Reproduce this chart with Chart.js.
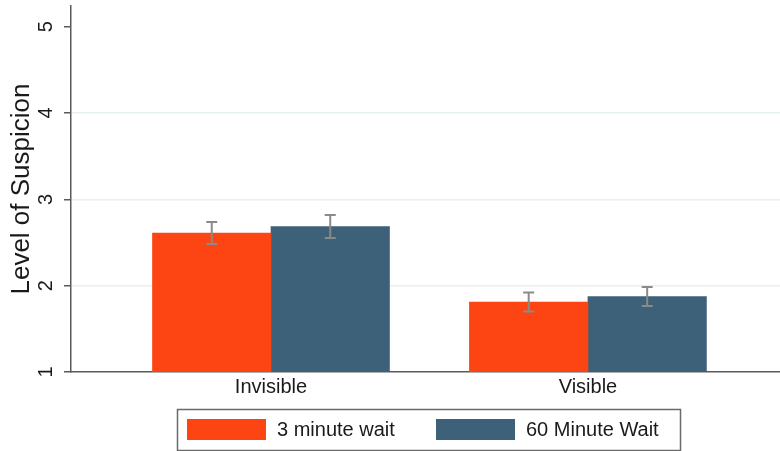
<!DOCTYPE html>
<html>
<head>
<meta charset="utf-8">
<script src="https://cdn.jsdelivr.net/npm/chart.js@4"></script>
<style>
  html, body { margin: 0; padding: 0; background: #fff; overflow: hidden; }
  #wrap { width: 780px; height: 451px; }
</style>
</head>
<body>
<div id="wrap"><canvas id="grafico" width="780" height="451"></canvas></div>
<script>
// data
const categories = ["Invisible", "Visible"];
const seriesNames = ["3 minute wait", "60 Minute Wait"];
const wait3 = [2.61, 1.81];
const wait60 = [2.685, 1.875];
const err3 = [0.128, 0.11];
const err60 = [0.134, 0.11];
const yTicks = [1, 2, 3, 4, 5];

const colors = ["#fc4512", "#3d6179"];
const textColor = "#1a1a1a";
const axisColor = "#5a5a5a";
const fontFam = "'Liberation Sans', Arial, Helvetica, sans-serif";

function toPoints(vals) {
    return vals.map((v, i) => ({x: i, y: v}));
}

// error bars, y tick labels (rotated like the original) and the boxed legend
const extras = {
    id: "extras",
    afterDatasetsDraw(chart) {
        const ctx = chart.ctx;
        const y = chart.scales.y;
        const errs = [err3, err60];
        ctx.save();
        ctx.strokeStyle = "#8a8a8a";
        ctx.lineWidth = 2;
        chart.data.datasets.forEach((ds, d) => {
            const meta = chart.getDatasetMeta(d);
            meta.data.forEach((bar, i) => {
                const v = ds.data[i].y;
                const top = y.getPixelForValue(v + errs[d][i]);
                const bot = y.getPixelForValue(v - errs[d][i]);
                ctx.beginPath();
                ctx.moveTo(bar.x, top); ctx.lineTo(bar.x, bot);
                ctx.moveTo(bar.x - 5.5, top); ctx.lineTo(bar.x + 5.5, top);
                ctx.moveTo(bar.x - 5.5, bot); ctx.lineTo(bar.x + 5.5, bot);
                ctx.stroke();
            });
        });
        ctx.restore();
    },
    afterDraw(chart) {
        const ctx = chart.ctx;
        const y = chart.scales.y;
        ctx.save();
        ctx.fillStyle = textColor;
        ctx.font = "20px " + fontFam;
        ctx.textAlign = "center";
        ctx.textBaseline = "middle";
        for (let t of yTicks) {
            ctx.save();
            ctx.translate(46, y.getPixelForValue(t));
            ctx.rotate(-Math.PI / 2);
            ctx.fillText(String(t), 0, 0);
            ctx.restore();
        }

        // legend
        ctx.strokeStyle = "#6a6a6a";
        ctx.lineWidth = 1.5;
        ctx.strokeRect(177.5, 409.5, 503, 41);
        const items = [[187, 277], [436, 526]];
        chart.data.datasets.forEach((ds, d) => {
            ctx.fillStyle = ds.backgroundColor;
            ctx.fillRect(items[d][0], 419, 79, 21);
            ctx.fillStyle = textColor;
            ctx.textAlign = "left";
            ctx.fillText(ds.label, items[d][1], 430);
        });
        ctx.restore();
    }
};

new Chart("grafico", {
    type: "bar",
    data: {
        datasets: [
            {label: seriesNames[0], data: toPoints(wait3), backgroundColor: colors[0], barThickness: 118.5},
            {label: seriesNames[1], data: toPoints(wait60), backgroundColor: colors[1], barThickness: 118.5}
        ]
    },
    options: {
        responsive: false,
        animation: false,
        events: [],
        layout: {padding: {top: 6, right: 0, bottom: 0, left: 0}},
        plugins: {
            legend: {display: false},
            tooltip: {enabled: false}
        },
        scales: {
            x: {
                type: "linear",
                offset: false,
                min: -0.631,
                max: 1.606,
                grid: {display: false, drawTicks: false, offset: false},
                border: {display: true, color: axisColor, width: 1.5},
                ticks: {
                    stepSize: 1,
                    includeBounds: false,
                    padding: 3,
                    color: textColor,
                    font: {size: 20, family: fontFam},
                    maxRotation: 0,
                    callback: (v) => categories[v] !== undefined ? categories[v] : ""
                },
                afterFit: (s) => { s.height = 79; }
            },
            y: {
                min: 1,
                max: 5.24,
                grid: {
                    color: (c) => (c.tick && (c.tick.value === 1 || c.tick.value === 5)) ? "rgba(0,0,0,0)" : "#e6eff1",
                    lineWidth: 1.5,
                    drawTicks: true,
                    tickLength: 7,
                    tickColor: axisColor,
                    tickWidth: 1.5
                },
                border: {display: true, color: axisColor, width: 1.5},
                ticks: {stepSize: 1, includeBounds: false, display: false},
                title: {
                    display: true,
                    text: "Level of Suspicion",
                    color: textColor,
                    font: {size: 26, family: fontFam},
                    padding: {top: 6, bottom: 0}
                },
                afterFit: (s) => { s.width = 71; }
            }
        }
    },
    plugins: [extras]
});
</script>
</body>
</html>
